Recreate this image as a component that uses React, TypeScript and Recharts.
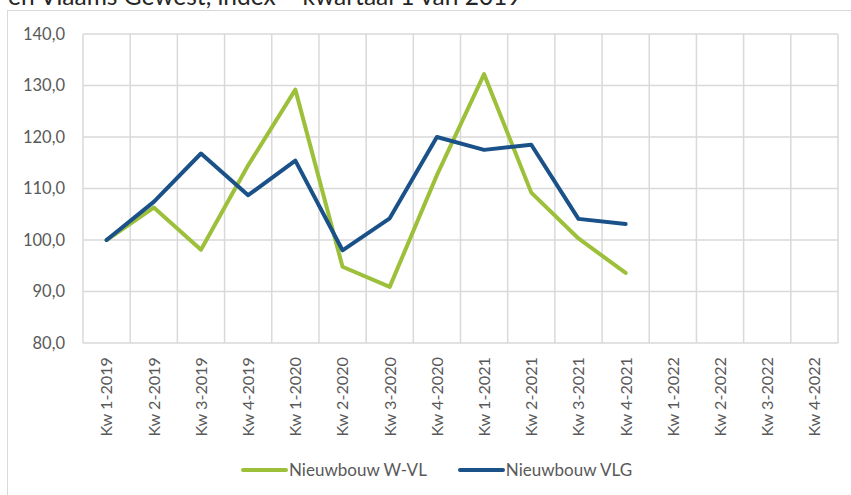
import React from "react";
import {
  LineChart,
  Line,
  XAxis,
  YAxis,
  CartesianGrid,
  Legend,
} from "recharts";

const categories = [
  "Kw 1-2019", "Kw 2-2019", "Kw 3-2019", "Kw 4-2019",
  "Kw 1-2020", "Kw 2-2020", "Kw 3-2020", "Kw 4-2020",
  "Kw 1-2021", "Kw 2-2021", "Kw 3-2021", "Kw 4-2021",
  "Kw 1-2022", "Kw 2-2022", "Kw 3-2022", "Kw 4-2022",
];

const nieuwbouwWVL: (number | null)[] = [
  100.0, 106.3, 98.1, 114.5, 129.2, 94.8, 90.9, 112.6,
  132.2, 109.2, 100.3, 93.6, null, null, null, null,
];

const nieuwbouwVLG: (number | null)[] = [
  100.0, 107.4, 116.8, 108.7, 115.4, 98.0, 104.2, 120.0,
  117.5, 118.5, 104.1, 103.1, null, null, null, null,
];

const yTicks = [80, 90, 100, 110, 120, 130, 140];

const seriesOrder = ["wvl", "vlg"];

const titleText = "en Vlaams Gewest, index = kwartaal 1 van 2019";

const data = categories.map((c, i) => ({
  cat: c,
  wvl: nieuwbouwWVL[i],
  vlg: nieuwbouwVLG[i],
}));

const FONT = "Lato, 'Open Sans', sans-serif";
const GRID = "#d9d9d9";
const TEXT = "#595959";

const XTick = (props: any) => {
  const { x, y, payload } = props;
  return (
    <g transform={`translate(${x},${y})`}>
      <text
        transform="rotate(-90)"
        textAnchor="end"
        dy="0.36em"
        fill={TEXT}
        fontSize={16.2}
        fontFamily={FONT}
      >
        {payload.value}
      </text>
    </g>
  );
};

const LegendContent = (props: any) => {
  const payload = [...(props.payload || [])].sort(
    (a: any, b: any) => seriesOrder.indexOf(a.dataKey) - seriesOrder.indexOf(b.dataKey)
  );
  return (
    <div
      style={{
        display: "flex",
        alignItems: "center",
        marginLeft: 241,
        height: 18,
        fontFamily: FONT,
      }}
    >
      {payload.map((p: any, i: number) => (
        <div key={i} style={{ display: "flex", alignItems: "center", marginRight: 31 }}>
          <svg width={47} height={8} style={{ marginRight: 1 }}>
            <line x1={2} y1={4} x2={45} y2={4} stroke={p.color} strokeWidth={4} strokeLinecap="round" />
          </svg>
          <span style={{ color: TEXT, fontSize: 17, lineHeight: "18px" }}>{p.value}</span>
        </div>
      ))}
    </div>
  );
};

export default function App() {
  return (
    <div
      style={{
        position: "absolute",
        left: 0,
        top: 0,
        width: 851,
        height: 495,
        overflow: "hidden",
        background: "#fff",
      }}
    >
      <div
        style={{
          position: "absolute",
          left: 8,
          top: -19,
          fontFamily: FONT,
          fontSize: 24.5,
          lineHeight: "29px",
          color: "#262626",
          whiteSpace: "nowrap",
        }}
      >
        {titleText}
      </div>
      <div
        style={{
          position: "absolute",
          left: 7,
          top: 10,
          width: 900,
          height: 600,
          border: `1px solid ${GRID}`,
        }}
      />
      <div style={{ position: "absolute", left: 0, top: 0 }}>
        <LineChart
          width={851}
          height={495}
          data={data}
          margin={{ top: 34, right: 13, left: 0, bottom: 0 }}
        >
          <CartesianGrid
            stroke={GRID}
            strokeWidth={1.5}
            verticalCoordinatesGenerator={({ offset }: any) =>
              Array.from({ length: categories.length + 1 }, (_, i) =>
                offset.left + (i * offset.width) / categories.length
              )
            }
          />
          <XAxis
            dataKey="cat"
            scale="band"
            interval={0}
            axisLine={false}
            tickLine={false}
            tickSize={0}
            tickMargin={14}
            height={134}
            tick={<XTick />}
          />
          <YAxis
            domain={[80, 140]}
            ticks={yTicks}
            width={83}
            axisLine={false}
            tickLine={false}
            tickSize={0}
            tickMargin={18}
            tick={{ fill: TEXT, fontSize: 16.5, fontFamily: FONT }}
            tickFormatter={(v: number) => v.toFixed(1).replace(".", ",")}
          />
          <Legend
            verticalAlign="bottom"
            content={<LegendContent />}
            wrapperStyle={{ top: 461, left: 0, width: 851, height: 18 }}
          />
          <Line
            name="Nieuwbouw W-VL"
            dataKey="wvl"
            stroke="#9dc03a"
            strokeWidth={4}
            dot={false}
            activeDot={false}
            strokeLinejoin="round"
            strokeLinecap="round"
            isAnimationActive={false}
          />
          <Line
            name="Nieuwbouw VLG"
            dataKey="vlg"
            stroke="#1a5189"
            strokeWidth={4}
            dot={false}
            activeDot={false}
            strokeLinejoin="round"
            strokeLinecap="round"
            isAnimationActive={false}
          />
        </LineChart>
      </div>
    </div>
  );
}
